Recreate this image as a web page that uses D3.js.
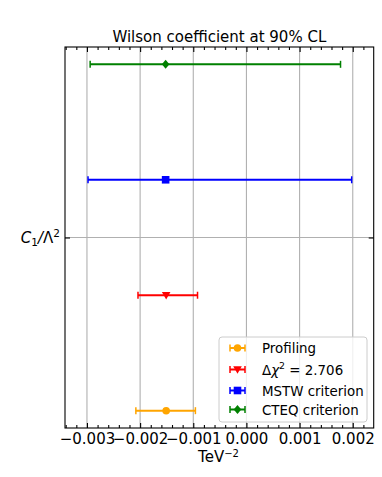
<!DOCTYPE html>
<html>
<head>
<meta charset="utf-8">
<script src="https://cdn.jsdelivr.net/npm/d3@7"></script>
<style>
  body { margin: 0; background: #fff; }
  svg { display: block; font-family: "DejaVu Sans", sans-serif; }
</style>
</head>
<body>
<svg id="vis" width="382" height="477"></svg>
<script>
// values (TeV^-2)
const methods = ['Profiling', 'Δχ2', 'MSTW criterion', 'CTEQ criterion'];
const centers = [-0.00151, -0.00151, -0.00152, -0.00152];
const lows = [-0.00208, -0.00204, -0.00298, -0.00294];
const highs = [-0.00096, -0.00092, 0.00198, 0.00177];
const colors = ['#ffa500', '#ff0000', '#0000ff', '#008000'];
const markers = ['circle', 'triangleDown', 'square', 'diamond'];
const xTicks = [-0.003, -0.002, -0.001, 0.000, 0.001, 0.002];

const vis = d3.select('#vis');
const plotLeft = 65, plotRight = 373.7, plotTop = 47, plotBottom = 428;
const fontSize = '15px';

const x = d3.scaleLinear().domain([-0.003413, 0.002394]).range([plotLeft, plotRight]);
const y = d3.scaleLinear().domain([-0.15, 3.15]).range([plotBottom, plotTop]);
const fmt = d3.format('.3f');
const minorTicks = d3.range(-34, 24, 2).map(d => d / 10000).filter(d => Math.abs(Math.round(d * 1000) - d * 1000) > 1e-9);

// grid
const grid = vis.append('g');
grid.selectAll('line.vx').data(xTicks).enter().append('line')
  .attr('x1', d => x(d)).attr('x2', d => x(d))
  .attr('y1', plotTop).attr('y2', plotBottom)
  .attr('stroke', '#b0b0b0').attr('stroke-width', 1.1);
grid.append('line')
  .attr('x1', plotLeft).attr('x2', plotRight)
  .attr('y1', y(1.5)).attr('y2', y(1.5))
  .attr('stroke', '#b0b0b0').attr('stroke-width', 1.1);

// axes
function styleAxis(g) {
  g.select('.domain').remove();
  g.selectAll('line').attr('stroke', '#000').attr('stroke-width', 1.1);
  g.selectAll('text').attr('font-size', fontSize).attr('fill', '#000')
    .attr('font-family', '"DejaVu Sans", sans-serif');
}
vis.append('g').attr('transform', `translate(0,${plotBottom})`)
  .call(d3.axisBottom(x).tickValues(xTicks).tickFormat(fmt).tickSize(-5).tickPadding(5))
  .call(styleAxis);
vis.append('g').attr('transform', `translate(0,${plotBottom})`)
  .call(d3.axisBottom(x).tickValues(minorTicks).tickFormat('').tickSize(-3))
  .call(styleAxis);
vis.append('g').attr('transform', `translate(0,${plotTop})`)
  .call(d3.axisTop(x).tickValues(xTicks).tickFormat('').tickSize(-5))
  .call(styleAxis);
vis.append('g').attr('transform', `translate(0,${plotTop})`)
  .call(d3.axisTop(x).tickValues(minorTicks).tickFormat('').tickSize(-3))
  .call(styleAxis);
vis.append('g').attr('transform', `translate(${plotLeft},0)`)
  .call(d3.axisLeft(y).tickValues([1.5]).tickFormat('').tickSize(-5))
  .call(styleAxis);
vis.append('g').attr('transform', `translate(${plotRight},0)`)
  .call(d3.axisRight(y).tickValues([1.5]).tickFormat('').tickSize(-5))
  .call(styleAxis);

// frame
vis.append('rect')
  .attr('x', plotLeft).attr('y', plotTop)
  .attr('width', plotRight - plotLeft).attr('height', plotBottom - plotTop)
  .attr('fill', 'none').attr('stroke', '#000').attr('stroke-width', 1.1);

// marker path
function markerPath(type, cx, cy) {
  const s = 3.8;
  if (type === 'circle') return `M${cx + s},${cy}A${s},${s} 0 1,1 ${cx - s},${cy}A${s},${s} 0 1,1 ${cx + s},${cy}Z`;
  if (type === 'square') return `M${cx - s},${cy - s}h${2 * s}v${2 * s}h${-2 * s}Z`;
  if (type === 'triangleDown') return `M${cx - s - 0.5},${cy - s + 0.5}L${cx + s + 0.5},${cy - s + 0.5}L${cx},${cy + s + 0.5}Z`;
  if (type === 'diamond') return `M${cx},${cy - s - 0.7}L${cx + s},${cy}L${cx},${cy + s + 0.7}L${cx - s},${cy}Z`;
}

// error bars
const bars = vis.append('g');
methods.forEach((m, i) => {
  const g = bars.append('g');
  const cy = y(i);
  g.append('line')
    .attr('x1', x(lows[i])).attr('x2', x(highs[i]))
    .attr('y1', cy).attr('y2', cy)
    .attr('stroke', colors[i]).attr('stroke-width', 2);
  [lows[i], highs[i]].forEach(v => {
    g.append('line')
      .attr('x1', x(v)).attr('x2', x(v))
      .attr('y1', cy - 3.5).attr('y2', cy + 3.5)
      .attr('stroke', colors[i]).attr('stroke-width', 1.5);
  });
  g.append('path').attr('d', markerPath(markers[i], x(centers[i]), cy))
    .attr('fill', colors[i]);
});

// title and labels
vis.append('text')
  .attr('x', (plotLeft + plotRight) / 2).attr('y', 42)
  .attr('text-anchor', 'middle').attr('font-size', fontSize)
  .text('Wilson coefficient at 90% CL');

const xl = vis.append('text')
  .attr('x', 218.5).attr('y', 462)
  .attr('text-anchor', 'middle').attr('font-size', fontSize);
xl.append('tspan').text('TeV');
xl.append('tspan').attr('dy', -5.5).attr('font-size', '10px').text('−2');

const yl = vis.append('text')
  .attr('x', 60).attr('y', 243)
  .attr('text-anchor', 'end').attr('font-size', fontSize);
yl.append('tspan').attr('font-style', 'italic').text('C');
yl.append('tspan').attr('dy', 3).attr('font-size', '10.5px').text('1');
yl.append('tspan').attr('dy', -3).attr('font-style', 'italic').text('/');
yl.append('tspan').text('Λ');
yl.append('tspan').attr('dy', -6).attr('font-size', '10.5px').text('2');

// legend
const legend = vis.append('g');
legend.append('rect')
  .attr('x', 219).attr('y', 337).attr('width', 148).attr('height', 85)
  .attr('rx', 3)
  .attr('fill', '#fff').attr('fill-opacity', 0.8)
  .attr('stroke', '#cccccc').attr('stroke-width', 1);
const legendY = [348, 369.5, 390.5, 409.5];
methods.forEach((m, i) => {
  const ly = legendY[i];
  const g = legend.append('g');
  g.append('line').attr('x1', 230).attr('x2', 245).attr('y1', ly).attr('y2', ly)
    .attr('stroke', colors[i]).attr('stroke-width', 2);
  [230, 245].forEach(lx => {
    g.append('line').attr('x1', lx).attr('x2', lx).attr('y1', ly - 3.5).attr('y2', ly + 3.5)
      .attr('stroke', colors[i]).attr('stroke-width', 1.5);
  });
  g.append('path').attr('d', markerPath(markers[i], 237.5, ly)).attr('fill', colors[i]);
  const t = g.append('text').attr('x', 262).attr('y', ly + 5).attr('font-size', '13.4px');
  if (m === 'Δχ2') {
    t.append('tspan').text('Δ');
    t.append('tspan').attr('font-style', 'italic').text('χ');
    t.append('tspan').attr('dy', -6).attr('font-size', '9.4px').text('2');
    t.append('tspan').attr('dy', 6).text(' = 2.706');
  } else {
    t.text(m);
  }
});
</script>
</body>
</html>
